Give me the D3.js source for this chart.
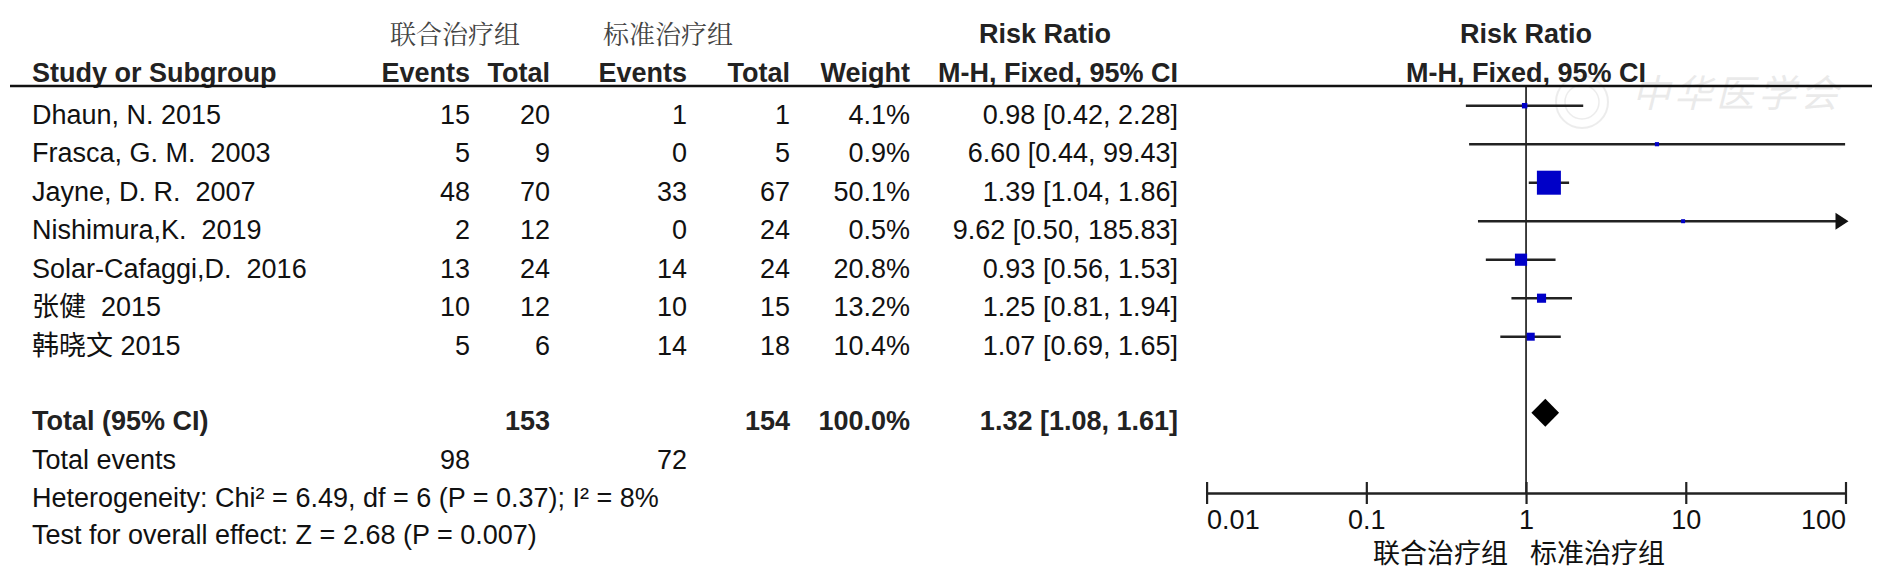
<!DOCTYPE html>
<html>
<head>
<meta charset="utf-8">
<script src="https://cdn.jsdelivr.net/npm/d3@7"></script>
<style>
  html, body { margin: 0; padding: 0; background: #fff; }
  svg { display: block; }
  text { font-family: "Liberation Sans", Arial, "Noto Sans CJK SC", sans-serif; white-space: pre; }
</style>
</head>
<body>
<svg id="chart" width="1890" height="572"></svg>
<script>
// ---------------- data ----------------
const studies = ["Dhaun, N. 2015", "Frasca, G. M.  2003", "Jayne, D. R.  2007", "Nishimura,K.  2019",
                 "Solar-Cafaggi,D.  2016", "张健  2015", "韩晓文 2015"];
const eventsT = [15, 5, 48, 2, 13, 10, 5];
const totalT  = [20, 9, 70, 12, 24, 12, 6];
const eventsC = [1, 0, 33, 0, 14, 10, 14];
const totalC  = [1, 5, 67, 24, 24, 15, 18];
const weights = [4.1, 0.9, 50.1, 0.5, 20.8, 13.2, 10.4];
const rr      = [0.98, 6.60, 1.39, 9.62, 0.93, 1.25, 1.07];
const lower   = [0.42, 0.44, 1.04, 0.50, 0.56, 0.81, 0.69];
const upper   = [2.28, 99.43, 1.86, 185.83, 1.53, 1.94, 1.65];
const pooled  = { rr: 1.32, lower: 1.08, upper: 1.61 };
const totals  = { totalT: 153, totalC: 154, weight: "100.0%", eventsT: 98, eventsC: 72 };
const groupNames = ["联合治疗组", "标准治疗组"];
const axisTicks = [0.01, 0.1, 1, 10, 100];
const footLines = ["Heterogeneity: Chi² = 6.49, df = 6 (P = 0.37); I² = 8%",
                   "Test for overall effect: Z = 2.68 (P = 0.007)"];

// ---------------- layout ----------------
const svg = d3.select("#chart");
const x = d3.scaleLog().domain([0.01, 100]).range([1206.6, 1845.5]);
const yRow = d3.scaleLinear().domain([0, 1]).range([105.7, 144.2]);
const size = d3.scaleLinear().domain([0, 50.1]).range([3.8, 24]);
const FS = 27;
const textOff = 18;
const col = { label: 32, eT: 470, tT: 550, eC: 687, tC: 790, w: 910, rr: 1178 };
const axisY = 493;
const fmt2 = d3.format(".2f");

// watermark
const wm = svg.append("g").attr("opacity", 0.15);
wm.append("circle").attr("cx", 1582).attr("cy", 102).attr("r", 26)
  .attr("fill", "none").attr("stroke", "#888").attr("stroke-width", 2);
wm.append("circle").attr("cx", 1582).attr("cy", 102).attr("r", 17)
  .attr("fill", "none").attr("stroke", "#888").attr("stroke-width", 1.5);
wm.append("text").attr("x", 1632).attr("y", 107).attr("font-size", 38)
  .attr("font-style", "italic").attr("fill", "#777")
  .style("font-family", "'Noto Sans CJK SC', sans-serif")
  .attr("letter-spacing", 4).text("中华医学会");

// header row 1
const h1 = svg.append("g");
h1.append("text").attr("x", 455).attr("y", 44).attr("text-anchor", "middle")
  .attr("font-size", 26).attr("fill", "#444").style("font-family", "'Noto Serif CJK SC','Noto Sans CJK SC',serif")
  .text(groupNames[0]);
h1.append("text").attr("x", 668).attr("y", 44).attr("text-anchor", "middle")
  .attr("font-size", 26).attr("fill", "#444").style("font-family", "'Noto Serif CJK SC','Noto Sans CJK SC',serif")
  .text(groupNames[1]);
h1.append("text").attr("x", 1045).attr("y", 43).attr("text-anchor", "middle")
  .attr("font-size", FS).attr("font-weight", "bold").attr("fill", "#222").text("Risk Ratio");
h1.append("text").attr("x", x(1)).attr("y", 43).attr("text-anchor", "middle")
  .attr("font-size", FS).attr("font-weight", "bold").attr("fill", "#222").text("Risk Ratio");

// header row 2
const hdr = [
  { t: "Study or Subgroup", x: col.label, a: "start" },
  { t: "Events", x: col.eT, a: "end" },
  { t: "Total", x: col.tT, a: "end" },
  { t: "Events", x: col.eC, a: "end" },
  { t: "Total", x: col.tC, a: "end" },
  { t: "Weight", x: col.w, a: "end" },
  { t: "M-H, Fixed, 95% CI", x: col.rr, a: "end" },
  { t: "M-H, Fixed, 95% CI", x: x(1), a: "middle" }
];
svg.append("g").selectAll("text").data(hdr).join("text")
  .attr("x", d => d.x).attr("y", 82).attr("text-anchor", d => d.a)
  .attr("font-size", FS).attr("font-weight", "bold").attr("fill", "#222").text(d => d.t);

// header rule
svg.append("line").attr("x1", 10).attr("x2", 1872).attr("y1", 86).attr("y2", 86)
  .attr("stroke", "#111").attr("stroke-width", 2.5);

// study rows (text)
const rows = studies.map((s, i) => ({ i, s, eT: eventsT[i], tT: totalT[i], eC: eventsC[i], tC: totalC[i],
  w: weights[i], rr: rr[i], lo: lower[i], hi: upper[i] }));
const rowG = svg.append("g").selectAll("g").data(rows).join("g")
  .attr("transform", d => `translate(0,${yRow(d.i) + textOff})`)
  .attr("font-size", FS).attr("fill", "#111");
rowG.append("text").attr("x", col.label).text(d => d.s);
rowG.append("text").attr("x", col.eT).attr("text-anchor", "end").text(d => d.eT);
rowG.append("text").attr("x", col.tT).attr("text-anchor", "end").text(d => d.tT);
rowG.append("text").attr("x", col.eC).attr("text-anchor", "end").text(d => d.eC);
rowG.append("text").attr("x", col.tC).attr("text-anchor", "end").text(d => d.tC);
rowG.append("text").attr("x", col.w).attr("text-anchor", "end").text(d => d.w.toFixed(1) + "%");
rowG.append("text").attr("x", col.rr).attr("text-anchor", "end")
  .text(d => `${fmt2(d.rr)} [${fmt2(d.lo)}, ${fmt2(d.hi)}]`);

// total row
const totY = yRow(8) + textOff - 2;
const tg = svg.append("g").attr("font-size", FS).attr("font-weight", "bold").attr("fill", "#222");
tg.append("text").attr("x", col.label).attr("y", totY).text("Total (95% CI)");
tg.append("text").attr("x", col.tT).attr("y", totY).attr("text-anchor", "end").text(totals.totalT);
tg.append("text").attr("x", col.tC).attr("y", totY).attr("text-anchor", "end").text(totals.totalC);
tg.append("text").attr("x", col.w).attr("y", totY).attr("text-anchor", "end").text(totals.weight);
tg.append("text").attr("x", col.rr).attr("y", totY).attr("text-anchor", "end")
  .text(`${fmt2(pooled.rr)} [${fmt2(pooled.lower)}, ${fmt2(pooled.upper)}]`);

const fg = svg.append("g").attr("font-size", FS).attr("fill", "#111");
fg.append("text").attr("x", col.label).attr("y", 469).text("Total events");
fg.append("text").attr("x", col.eT).attr("y", 469).attr("text-anchor", "end").text(totals.eventsT);
fg.append("text").attr("x", col.eC).attr("y", 469).attr("text-anchor", "end").text(totals.eventsC);
fg.append("text").attr("x", col.label).attr("y", 507).text(footLines[0]);
fg.append("text").attr("x", col.label).attr("y", 544).text(footLines[1]);

// ---------------- forest plot ----------------
svg.append("line").attr("x1", x(1)).attr("x2", x(1)).attr("y1", 86).attr("y2", axisY)
  .attr("stroke", "#111").attr("stroke-width", 1.6);

const [xmin, xmax] = x.domain();
const ci = svg.append("g").selectAll("g").data(rows).join("g")
  .attr("transform", d => `translate(0,${yRow(d.i)})`);
ci.append("line")
  .attr("x1", d => x(Math.max(d.lo, xmin))).attr("x2", d => d.hi > xmax ? x(xmax) - 8 : x(d.hi))
  .attr("y1", 0).attr("y2", 0).attr("stroke", "#222").attr("stroke-width", 2.4);
ci.filter(d => d.hi > xmax).append("path")
  .attr("d", d => `M${x(xmax) + 3},0 L${x(xmax) - 10},-8.5 L${x(xmax) - 10},8.5 Z`)
  .attr("fill", "#111");
ci.append("rect")
  .attr("x", d => x(d.rr) - size(d.w) / 2).attr("y", d => -size(d.w) / 2)
  .attr("width", d => size(d.w)).attr("height", d => size(d.w))
  .attr("fill", "#0000c8");

// pooled diamond
const dy = yRow(8) - 1;
svg.append("path")
  .attr("d", `M${x(pooled.lower)},${dy} L${x(pooled.rr)},${dy - 14} L${x(pooled.upper)},${dy} L${x(pooled.rr)},${dy + 14} Z`)
  .attr("fill", "#000");

// axis
const axis = d3.axisBottom(x).tickValues(axisTicks).tickFormat(d => String(d)).tickSize(0).tickPadding(0);
const ag = svg.append("g").attr("transform", `translate(0,${axisY})`).call(axis);
ag.select(".domain").attr("stroke", "#222").attr("stroke-width", 2.6);
ag.selectAll(".tick line").attr("y1", -11).attr("y2", 11).attr("stroke", "#222").attr("stroke-width", 2.2);
ag.selectAll(".tick text")
  .attr("y", 36).attr("dy", 0).attr("font-size", FS).attr("fill", "#111")
  .style("font-family", "'Liberation Sans', Arial, sans-serif")
  .attr("text-anchor", (d, i) => i === 0 ? "start" : (i === axisTicks.length - 1 ? "end" : "middle"));

// favours labels
svg.append("text").attr("x", x(1) - 18).attr("y", 563).attr("text-anchor", "end")
  .attr("font-size", 27).attr("fill", "#111").style("font-family", "'Noto Sans CJK SC', sans-serif")
  .text(groupNames[0]);
svg.append("text").attr("x", x(1) + 4).attr("y", 563).attr("text-anchor", "start")
  .attr("font-size", 27).attr("fill", "#111").style("font-family", "'Noto Sans CJK SC', sans-serif")
  .text(groupNames[1]);
</script>
</body>
</html>
